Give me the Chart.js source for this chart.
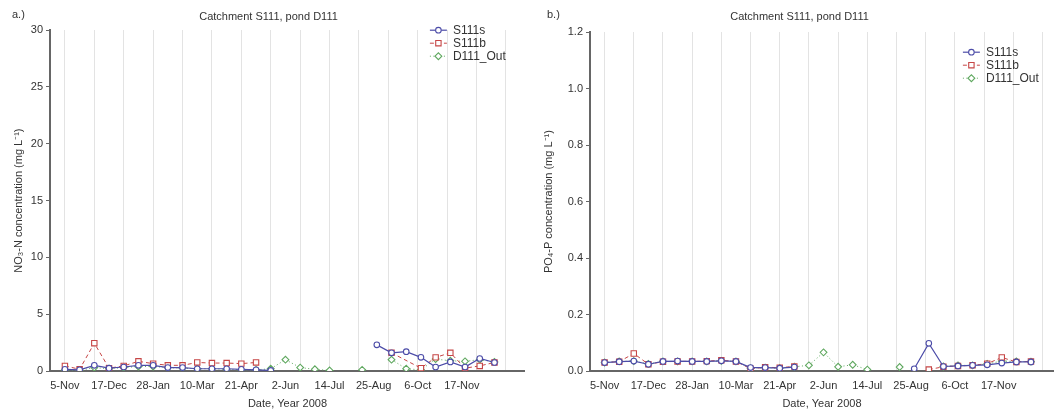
<!DOCTYPE html>
<html>
<head>
<meta charset="utf-8">
<script src="https://cdn.jsdelivr.net/npm/chart.js@4.4.0/dist/chart.umd.min.js"></script>
<style>
html, body { margin: 0; padding: 0; background: #fff; }
#wrap { display: flex; width: 1059px; height: 413px; }
canvas { display: block; }
</style>
</head>
<body>
<div id="wrap">
<canvas id="chartA" width="530" height="413"></canvas>
<canvas id="chartB" width="529" height="413"></canvas>
</div>
<script>
// sampling dates, days after 5-Nov-2007 (roughly biweekly)
const sampleDays = [0, 14, 28, 42, 56, 70, 84, 98, 112, 126, 140, 154, 168, 182, 196,
    210, 224, 238, 252, 268, 283, 297, 311, 325, 339, 353, 367, 381, 395, 409];
const tickDays = [0, 42, 84, 126, 168, 210, 252, 294, 336, 378];
const tickLabels = ['5-Nov', '17-Dec', '28-Jan', '10-Mar', '21-Apr', '2-Jun', '14-Jul', '25-Aug', '6-Oct', '17-Nov'];
const gridDays = [0, 28, 56, 84, 112, 140, 168, 196, 224, 252, 280, 308, 336, 364, 392, 420];
const no3Ticks = [0, 5, 10, 15, 20, 25, 30];
const po4Ticks = [0, 0.2, 0.4, 0.6, 0.8, 1.0, 1.2];

// a.) NO3-N
const no3S111s = [0.15, 0.1, 0.5, 0.25, 0.35, 0.5, 0.5, 0.3, 0.3, 0.2, 0.2, 0.2, 0.15, 0.1, 0.05,
    null, null, null, null, null, null, 2.3, 1.6, 1.7, 1.2, 0.35, 0.8, 0.35, 1.1, 0.75];
const no3S111b = [0.45, 0.15, 2.45, 0.25, 0.45, 0.85, 0.65, 0.5, 0.5, 0.75, 0.7, 0.7, 0.65, 0.75, null,
    null, null, null, null, null, null, null, 1.6, null, 0.25, 1.2, 1.6, 0.25, 0.45, 0.75];
const no3D111Out = [0.1, 0.05, 0.3, 0.2, 0.3, 0.4, 0.4, 0.3, 0.25, 0.2, 0.2, 0.15, 0.1, 0.1, 0.2,
    1.0, 0.3, 0.15, 0.05, null, 0.1, null, 1.0, 0.2, 0.1, 1.05, 0.9, 0.85, 1.0, 0.8];

// b.) PO4-P
const po4S111s = [0.03, 0.033, 0.035, 0.024, 0.034, 0.035, 0.034, 0.034, 0.036, 0.034, 0.012, 0.012, 0.01, 0.014, null,
    null, null, null, null, null, null, 0.008, 0.098, 0.016, 0.018, 0.02, 0.022, 0.028, 0.032, 0.032];
const po4S111b = [0.03, 0.033, 0.062, 0.024, 0.033, 0.034, 0.034, 0.035, 0.038, 0.034, 0.008, 0.013, 0.012, 0.016, null,
    null, null, null, null, null, null, null, 0.005, 0.015, 0.018, 0.02, 0.026, 0.048, 0.032, 0.034];
const po4D111Out = [0.03, 0.034, 0.035, 0.025, 0.034, 0.034, 0.034, 0.034, 0.036, 0.034, 0.01, 0.012, 0.01, 0.015, 0.02,
    0.066, 0.015, 0.022, 0.005, null, 0.014, null, null, 0.016, 0.02, 0.02, 0.025, 0.035, 0.034, 0.033];

const seriesStyle = [
    {label: 'S111s', color: '#4c4ca8', dash: [], pointStyle: 'circle', radius: 2.8, width: 1.2, gap: 20},
    {label: 'S111b', color: '#c64646', dash: [4, 3], pointStyle: 'rect', radius: 3.8, width: 1, gap: 30},
    {label: 'D111_Out', color: '#5fa85f', dash: [1, 2.5], pointStyle: 'rectRot', radius: 3.4, width: 1, gap: 20}
];

Chart.defaults.font.family = "'Liberation Sans', Arial, sans-serif";
Chart.defaults.font.size = 11;
Chart.defaults.color = '#333';

function points(values) {
    return sampleDays.map((d, i) => ({x: d, y: values[i]})).filter(p => p.y !== null);
}

const panelLabel = {
    id: 'panelLabel',
    afterDraw(chart, args, opts) {
        const ctx = chart.ctx;
        ctx.save();
        ctx.fillStyle = '#333';
        ctx.font = "11px 'Liberation Sans', Arial, sans-serif";
        ctx.textBaseline = 'middle';
        ctx.fillText(opts.text, opts.x, opts.y);
        ctx.restore();
    }
};

const cornerLegend = {
    id: 'cornerLegend',
    afterDraw(chart, args, opts) {
        const ctx = chart.ctx;
        const ca = chart.chartArea;
        ctx.save();
        ctx.font = "12px 'Liberation Sans', Arial, sans-serif";
        ctx.textBaseline = 'middle';
        chart.data.datasets.forEach((ds, i) => {
            const x0 = ca.right - opts.dx;
            const y = ca.top + opts.dy + i * 13;
            ctx.strokeStyle = ds.borderColor;
            ctx.lineWidth = ds.borderWidth;
            ctx.setLineDash(ds.borderDash);
            ctx.beginPath();
            ctx.moveTo(x0, y);
            ctx.lineTo(x0 + 17, y);
            ctx.stroke();
            ctx.setLineDash([]);
            ctx.fillStyle = '#fff';
            ctx.lineWidth = 1.1;
            Chart.helpers.drawPoint(ctx, {pointStyle: ds.pointStyle, radius: ds.pointRadius, rotation: 0, borderWidth: 1.1}, x0 + 8.5, y);
            ctx.fillStyle = '#333';
            ctx.fillText(ds.label, x0 + 23, y);
        });
        ctx.restore();
    }
};

function makeChart(id, cfg) {
    return new Chart(document.getElementById(id), {
        type: 'line',
        data: {
            datasets: seriesStyle.map((s, k) => ({
                label: s.label,
                data: points(cfg.series[k]),
                borderColor: s.color,
                backgroundColor: '#fff',
                borderWidth: s.width,
                borderDash: s.dash,
                pointStyle: s.pointStyle,
                pointRadius: s.radius,
                pointBorderColor: s.color,
                pointBackgroundColor: '#fff',
                pointBorderWidth: 1.1,
                spanGaps: s.gap,
                tension: 0
            }))
        },
        options: {
            responsive: false,
            animation: false,
            events: [],
            layout: {padding: {left: 10, right: cfg.padRight, top: 0, bottom: 0}},
            plugins: {
                legend: {display: false},
                tooltip: {enabled: false},
                title: {
                    display: true,
                    text: 'Catchment S111, pond D111',
                    color: '#333',
                    font: {size: 11, weight: 'normal'},
                    padding: {top: 10, bottom: cfg.titleGap}
                },
                panelLabel: cfg.panel,
                cornerLegend: cfg.legend
            },
            scales: {
                x: {
                    type: 'linear',
                    min: cfg.xMin,
                    max: cfg.xMax,
                    afterBuildTicks: a => { a.ticks = tickDays.map(v => ({value: v})); },
                    afterFit: a => { a.height = 42; },
                    ticks: {
                        autoSkip: false,
                        maxRotation: 0,
                        padding: 8,
                        callback: v => tickLabels[tickDays.indexOf(v)]
                    },
                    grid: {display: false, drawTicks: false},
                    border: {display: true, color: '#666', width: 2},
                    title: {display: true, text: 'Date, Year 2008', padding: {top: 4, bottom: 2}}
                },
                xg: {
                    type: 'linear',
                    position: 'top',
                    min: cfg.xMin,
                    max: cfg.xMax,
                    afterBuildTicks: a => { a.ticks = gridDays.map(v => ({value: v})); },
                    afterFit: a => { a.height = 0; },
                    ticks: {display: false},
                    grid: {color: '#e3e3e3', drawTicks: false},
                    border: {display: false}
                },
                y: {
                    min: 0,
                    max: cfg.yMax,
                    afterBuildTicks: a => { a.ticks = cfg.yTicks.map(v => ({value: v})); },
                    afterFit: a => { a.width = cfg.yWidth; },
                    ticks: {padding: 3, callback: cfg.yFormat},
                    grid: {drawOnChartArea: false, drawTicks: true, tickLength: 4, tickColor: '#666'},
                    border: {display: true, color: '#666', width: 2},
                    title: {display: true, text: cfg.yTitle, padding: {top: 2, bottom: 0}}
                }
            }
        },
        plugins: [panelLabel, cornerLegend]
    });
}

makeChart('chartA', {
    series: [no3S111s, no3S111b, no3D111Out],
    xMin: -14.2, xMax: 438, yMax: 30, yTicks: no3Ticks, yWidth: 40,
    yFormat: v => String(v),
    yTitle: 'NO\u2083-N concentration (mg L\u207B\u00B9)',
    padRight: 3, titleGap: 7,
    panel: {text: 'a.)', x: 12, y: 15},
    legend: {dx: 95, dy: 0}
});

makeChart('chartB', {
    series: [po4S111s, po4S111b, po4D111Out],
    xMin: -14, xMax: 431, yMax: 1.2, yTicks: po4Ticks, yWidth: 50,
    yFormat: v => v.toFixed(1),
    yTitle: 'PO\u2084-P concentration (mg L\u207B\u00B9)',
    padRight: 0, titleGap: 9,
    panel: {text: 'b.)', x: 17, y: 15},
    legend: {dx: 91, dy: 20}
});
</script>
</body>
</html>
